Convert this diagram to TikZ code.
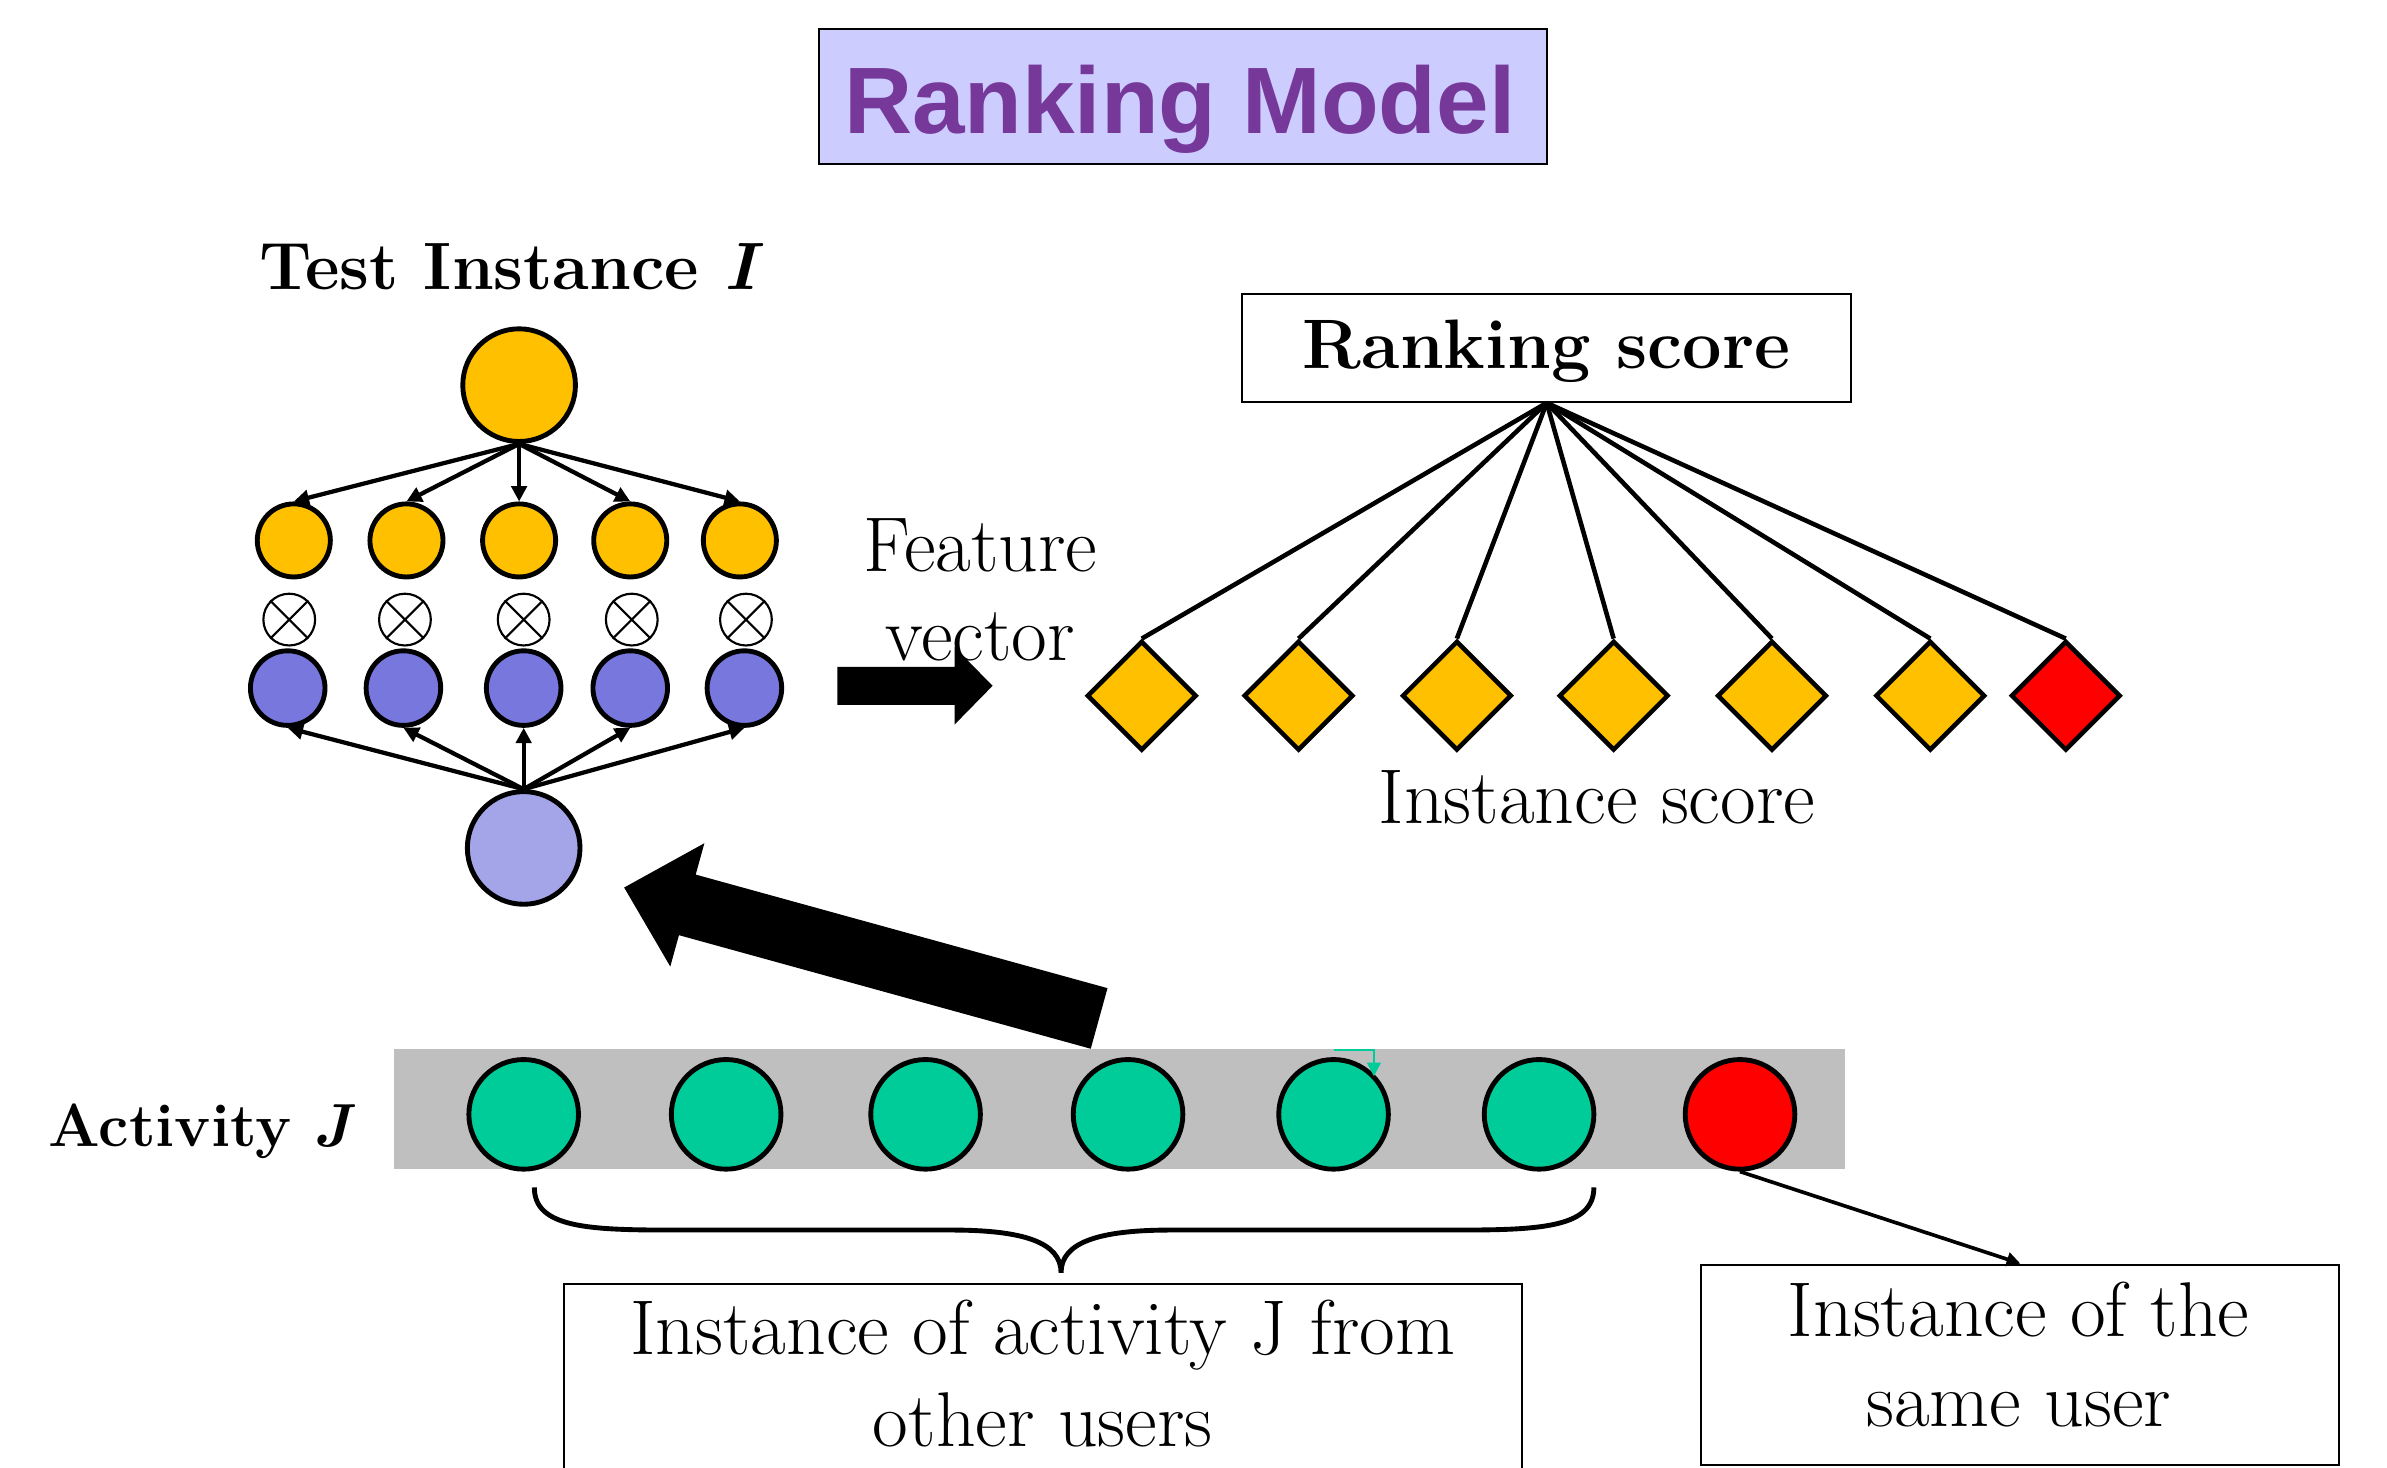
\documentclass[tikz,border=0pt]{standalone}
\usepackage{fontspec}
\newfontfamily\titlefont{Liberation Sans}
\usetikzlibrary{arrows.meta,shapes.geometric,calc}

\definecolor{gold}{HTML}{FFC000}
\definecolor{vblue}{HTML}{7777DD}
\definecolor{lblue}{HTML}{A4A4E8}
\definecolor{tgreen}{HTML}{00CC99}
\definecolor{bandgrey}{HTML}{BFBFBF}
\definecolor{lav}{HTML}{CCCCFF}
\definecolor{purp}{HTML}{76399A}

\tikzset{
  ball/.style={circle, draw=black, line width=3.2pt, inner sep=0pt, minimum size=#1},
  otimesnode/.style={circle, draw=black, line width=1.4pt, inner sep=0pt, minimum size=34pt},
  tarrow/.style={line width=2.8pt, -{Triangle[length=10pt,width=10pt]}},
  fanline/.style={line width=3pt},
  gem/.style={diamond, aspect=1, draw=black, line width=3pt, inner sep=0pt, minimum width=72pt, minimum height=72pt},
  framebox/.style={draw=black, line width=1.3pt, inner sep=0pt},
  regtxt/.style={font=\fontsize{51}{60}\selectfont, anchor=base, inner sep=0pt},
  boldtxt/.style={font=\bfseries\fontsize{44}{50}\selectfont, anchor=base, inner sep=0pt},
}

\begin{document}
\begin{tikzpicture}[x=1pt,y=-1pt]
\clip (0,0) rectangle (1568,964);
\fill[white] (0,0) rectangle (1568,964);

% title
\node[framebox, fill=lav, minimum width=478pt, minimum height=89pt] (title) at (777,63.5) {};
\node[font=\titlefont\bfseries\fontsize{62}{70}\selectfont, text=purp, anchor=base, inner sep=0pt] (titletext) at (775,88) {Ranking Model};

% test instance tree
\node[boldtxt] (ttl) at (336,190) {Test Instance \textit{I}};
\node[ball=74pt, fill=gold] (top) at (341,253) {};
\foreach \x [count=\i] in {193,267,341,414,486}
  \node[ball=48pt, fill=gold] (y\i) at (\x,355) {};
\foreach \x [count=\i] in {190,266,344,415,490}{
  \node[otimesnode] (c\i) at (\x,407) {};
  \draw[line width=1.4pt] (c\i.north west) -- (c\i.south east) (c\i.north east) -- (c\i.south west);
}
\foreach \x [count=\i] in {189,265,344,414,489}
  \node[ball=49pt, fill=vblue] (b\i) at (\x,452) {};
\node[ball=74pt, fill=lblue] (bot) at (344,557) {};
\foreach \i in {1,...,5}{
  \draw[tarrow] (top.south) -- (y\i.north);
  \draw[tarrow] (bot.north) -- (b\i.south);
}

% feature vector
\node[regtxt] (feat) at (644,375.5) {Feature};
\node[regtxt] (vec) at (644,433.6) {vector};
\fill[black] (550,438) -- (627,438) -- (627,425) -- (652,450.5) -- (627,476) -- (627,463) -- (550,463) -- cycle;

% ranking score
\node[framebox, minimum width=400pt, minimum height=71pt] (rs) at (1016,228.5) {};
\node[boldtxt, font=\bfseries\fontsize{46}{52}\selectfont] (rstext) at (1016,242) {Ranking score};
\foreach \x [count=\i] in {750,853,957,1060,1164,1268}
  \node[gem, fill=gold] (d\i) at (\x,457) {};
\node[gem, fill=red] (d7) at (1357,457) {};
\foreach \i in {1,...,7}
  \draw[fanline] (rs.south) -- (d\i.north);
\node[regtxt] (iscore) at (1049,541) {Instance score};

% big arrow from activity band to the model
\fill[black] (727.5,649.1) -- (457.0,574.5) -- (462.7,553.9) -- (410,583) -- (440.3,634.9) -- (446.0,614.3) -- (716.5,688.9) -- cycle;

% activity band
\node[boldtxt, font=\bfseries\fontsize{40}{48}\selectfont] (act) at (133,752.8) {Activity \textit{J}};
\node[fill=bandgrey, minimum width=953pt, minimum height=79pt, inner sep=0pt] (band) at (735.5,728.5) {};
\foreach \x [count=\i] in {344,477,608,741,876,1011}
  \node[ball=72pt, fill=tgreen] (g\i) at (\x,732) {};
\node[ball=72pt, fill=red] (redball) at (1143,732) {};
\coordinate (ta) at (876,689.5);
\coordinate (tb) at (902.5,689.5);
\coordinate (tc) at (902.5,707);
\draw[tgreen, line width=1.2pt, -{Triangle[length=9pt,width=9pt]}] (ta) -- (tb) -- (tc);

% brace
\draw[line width=3.2pt] (351,780) .. controls (351,806) and (385,808) .. (440,808)
  -- (625,808) .. controls (672,808) and (697,816) .. (697,836)
  .. controls (697,816) and (722,808) .. (769,808)
  -- (958,808) .. controls (1013,808) and (1047,806) .. (1047,780);

% bottom boxes
\node[framebox, anchor=north west, minimum width=629pt, minimum height=150pt] (ob) at (370,843) {};
\node[regtxt] (ob1) at (685,890) {Instance of activity J from};
\node[regtxt] (ob2) at (685,950) {other users};
\node[framebox, anchor=north west, minimum width=419pt, minimum height=132pt] (sb) at (1117,830) {};
\node[regtxt] (sb1) at (1326,878) {Instance of the};
\node[regtxt] (sb2) at (1326,937) {same user};
\draw[line width=2.4pt, -{Triangle[length=9pt,width=9pt]}] (redball.south) -- (sb.north);
\end{tikzpicture}
\end{document}
